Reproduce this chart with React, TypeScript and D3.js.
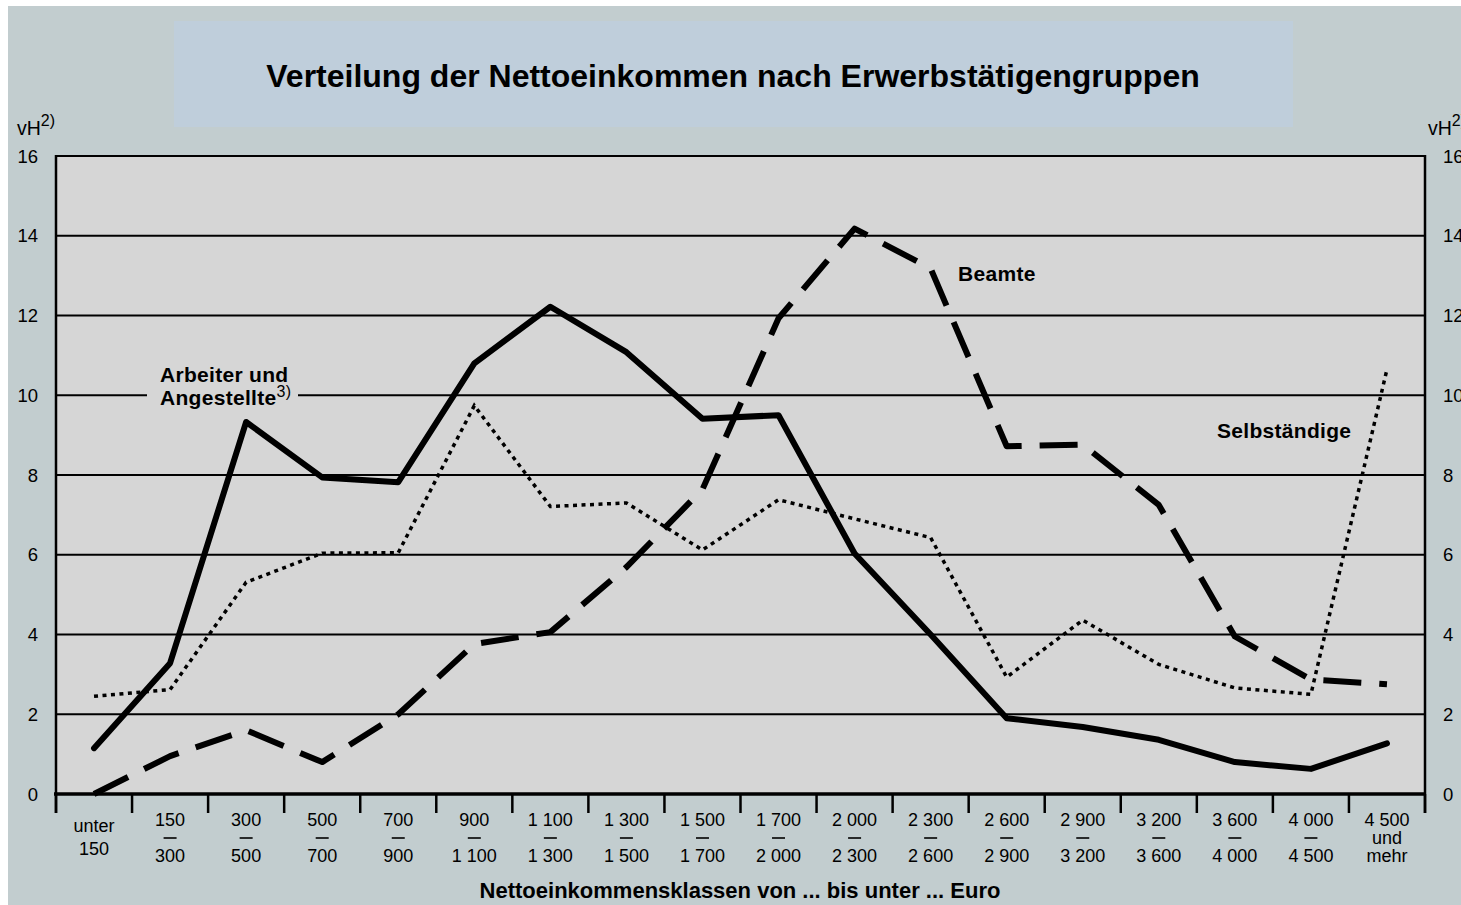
import React from "react";
import * as d3 from "d3";

// income classes (von ... bis unter ... Euro)
const classFrom = ["unter", "150", "300", "500", "700", "900", "1 100", "1 300", "1 500", "1 700", "2 000", "2 300", "2 600", "2 900", "3 200", "3 600", "4 000", "4 500"];
const classTo = ["150", "300", "500", "700", "900", "1 100", "1 300", "1 500", "1 700", "2 000", "2 300", "2 600", "2 900", "3 200", "3 600", "4 000", "4 500", "mehr"];
const categories = classFrom.map((f, i) => `${f}-${classTo[i]}`);

// vH per class
const arbeiter = [1.15, 3.28, 9.33, 7.94, 7.82, 10.8, 12.22, 11.08, 9.41, 9.5, 6.03, 4.0, 1.9, 1.68, 1.36, 0.8, 0.63, 1.27];
const beamte = [0, 0.95, 1.6, 0.8, 2.0, 3.76, 4.06, 5.69, 7.64, 11.93, 14.18, 13.18, 8.72, 8.76, 7.25, 3.95, 2.87, 2.75];
const selbst = [2.45, 2.62, 5.31, 6.04, 6.05, 9.74, 7.21, 7.3, 6.12, 7.38, 6.9, 6.43, 2.93, 4.36, 3.25, 2.66, 2.5, 10.65];

const yTicks = [0, 2, 4, 6, 8, 10, 12, 14, 16];

const W = 1461;
const H = 905;
const left = 56;
const right = 1425;
const top = 156;
const bottom = 794;

const FONT = "'Liberation Sans', Arial, Helvetica, sans-serif";

export default function App() {
  const x = d3.scaleBand().domain(categories).range([left, right]).padding(0);
  const y = d3.scaleLinear().domain([0, 16]).range([bottom, top]);

  const line = d3
    .line<number>()
    .x((_, i) => x(categories[i])! + x.bandwidth() / 2)
    .y((d) => y(d));

  const edges = categories.map((c) => x(c)!).concat([right]);

  return (
    <svg width={W} height={H} style={{ position: "absolute", left: 0, top: 0, display: "block" }}>
      <rect x={0} y={0} width={W} height={H} fill="#fff" />
      <rect x={8} y={6} width={W - 8} height={H - 6} fill="#c2cdcf" />
      {/* title box */}
      <rect x={174} y={21} width={1119} height={106} fill="#bfcedb" />
      <text x={733} y={87} textAnchor="middle" fontFamily={FONT} fontWeight="bold" fontSize={32} fill="#000">
        Verteilung der Nettoeinkommen nach Erwerbstätigengruppen
      </text>

      {/* plot area */}
      <rect x={left} y={top} width={right - left} height={bottom - top} fill="#d6d6d6" />
      {yTicks.map((t) => (
        <line key={t} x1={left} x2={right} y1={y(t)} y2={y(t)} stroke="#000" strokeWidth={2} />
      ))}
      {/* gap in the 10 gridline behind the label */}
      <rect x={147} y={y(10) - 3} width={151} height={6} fill="#d6d6d6" />

      {/* y axis labels */}
      {yTicks.map((t) => (
        <g key={"yl" + t} fontFamily={FONT} fontSize={18.5} fill="#000">
          <text x={38} y={y(t) + 6.5} textAnchor="end">{t}</text>
          <text x={1443} y={y(t) + 6.5}>{t}</text>
        </g>
      ))}
      <text x={17} y={135} fontFamily={FONT} fontSize={19.5} fill="#000">
        vH<tspan dy={-9} fontSize={16}>2)</tspan>
      </text>
      <text x={1428} y={135} fontFamily={FONT} fontSize={19.5} fill="#000">
        vH<tspan dy={-9} fontSize={16}>2)</tspan>
      </text>

      {/* frame */}
      <line x1={left} x2={left} y1={top - 1} y2={813} stroke="#000" strokeWidth={2.5} />
      <line x1={right} x2={right} y1={top - 1} y2={813} stroke="#000" strokeWidth={2.5} />
      <line x1={left - 2} x2={right + 1} y1={bottom} y2={bottom} stroke="#000" strokeWidth={3.5} />
      {edges.map((e, i) => (
        <line key={"t" + i} x1={e} x2={e} y1={bottom} y2={813} stroke="#000" strokeWidth={2.5} />
      ))}

      {/* x labels */}
      {categories.map((c, i) => {
        const cx = x(c)! + x.bandwidth() / 2;
        if (i === 0)
          return (
            <g key={c} fontFamily={FONT} fontSize={18} fill="#000" textAnchor="middle">
              <text x={cx} y={832}>{classFrom[i]}</text>
              <text x={cx} y={855}>{classTo[i]}</text>
            </g>
          );
        if (i === categories.length - 1)
          return (
            <g key={c} fontFamily={FONT} fontSize={18} fill="#000" textAnchor="middle">
              <text x={cx} y={826}>{classFrom[i]}</text>
              <text x={cx} y={844}>und</text>
              <text x={cx} y={862}>{classTo[i]}</text>
            </g>
          );
        return (
          <g key={c} fontFamily={FONT} fontSize={18} fill="#000" textAnchor="middle">
            <text x={cx} y={826}>{classFrom[i]}</text>
            <line x1={cx - 6.5} x2={cx + 6.5} y1={838} y2={838} stroke="#000" strokeWidth={1.6} />
            <text x={cx} y={862}>{classTo[i]}</text>
          </g>
        );
      })}
      <text x={740} y={898} textAnchor="middle" fontFamily={FONT} fontWeight="bold" fontSize={22} fill="#000">
        Nettoeinkommensklassen von ... bis unter ... Euro
      </text>

      {/* series */}
      <path d={line(selbst)!} fill="none" stroke="#000" strokeWidth={3.5} strokeDasharray="4,4.5" />
      <path d={line(beamte)!} fill="none" stroke="#000" strokeWidth={6} strokeDasharray="38,18" strokeLinejoin="round" />
      <path d={line(arbeiter)!} fill="none" stroke="#000" strokeWidth={6} strokeLinejoin="round" strokeLinecap="round" />

      {/* series labels */}
      <g fontFamily={FONT} fontWeight="bold" fontSize={21} letterSpacing={0.3} fill="#000">
        <text x={160} y={382}>Arbeiter und</text>
        <text x={160} y={405}>
          Angestellte<tspan dy={-8} fontSize={16} fontWeight="normal">3)</tspan>
        </text>
        <text x={958} y={281}>Beamte</text>
        <text x={1217} y={438}>Selbständige</text>
      </g>
    </svg>
  );
}
